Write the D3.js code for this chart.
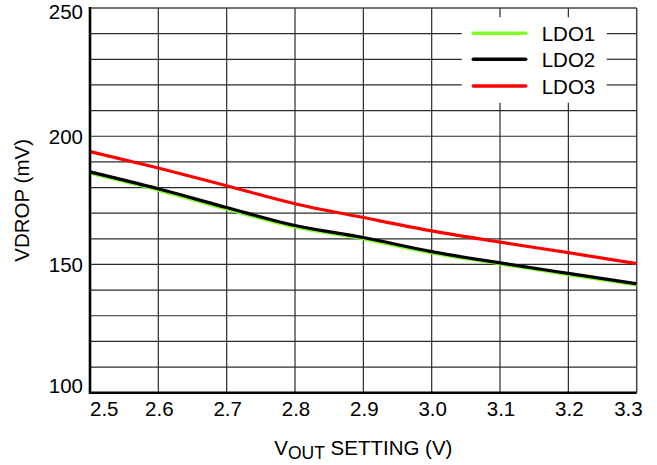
<!DOCTYPE html>
<html>
<head>
<meta charset="utf-8">
<script src="https://cdn.jsdelivr.net/npm/d3@7"></script>
<style>
  body { margin: 0; background: #fff; }
  text { font-family: "Liberation Sans", Arial, sans-serif; fill: #000; }
</style>
</head>
<body>
<div id="chart"></div>
<script>
// values
const vout = [2.5, 2.6, 2.7, 2.8, 2.9, 3.0, 3.1, 3.2, 3.3];
const ldo1 = [185.6, 179.0, 171.6, 164.6, 160.0, 154.5, 150.2, 146.0, 142.0];
const ldo2 = [186.1, 179.5, 172.2, 165.2, 160.5, 155.0, 150.6, 146.5, 142.5];
const ldo3 = [194.0, 187.6, 180.7, 173.7, 168.3, 163.1, 158.7, 154.6, 150.3];

const seriesNames = ["LDO1", "LDO2", "LDO3"];
const seriesColors = ["#80ff20", "#000000", "#ff0000"];
const yTickLabels = [100, 150, 200, 250];

const width = 657, height = 465;
const margin = {top: 8, right: 20.3, bottom: 72.3, left: 90};
const fontSize = 20.5;

const svg = d3.select("#chart")
  .append("svg")
  .attr("width", width)
  .attr("height", height);

const x = d3.scaleLinear()
  .domain([2.5, 3.3])
  .range([margin.left, width - margin.right]);

const y = d3.scaleLinear()
  .domain([100, 250])
  .range([height - margin.bottom, margin.top]);

// legend box area (pixels), grid is cut out underneath it
const legendBox = {x0: 461.7, x1: 606.7, y0: 17.3, y1: 102.7};

const grid = svg.append("g").attr("stroke", "#2a2a2a").attr("stroke-width", 1.2);

d3.range(110, 250, 10).forEach(v => {
  const yy = y(v);
  if (yy > legendBox.y0 && yy < legendBox.y1) {
    grid.append("line").attr("x1", x(2.5)).attr("x2", legendBox.x0).attr("y1", yy).attr("y2", yy);
    grid.append("line").attr("x1", legendBox.x1).attr("x2", x(3.3)).attr("y1", yy).attr("y2", yy);
  } else {
    grid.append("line").attr("x1", x(2.5)).attr("x2", x(3.3)).attr("y1", yy).attr("y2", yy);
  }
});

vout.slice(1, -1).forEach(v => {
  const xx = x(v);
  if (xx > legendBox.x0 && xx < legendBox.x1) {
    grid.append("line").attr("x1", xx).attr("x2", xx).attr("y1", y(250)).attr("y2", legendBox.y0);
    grid.append("line").attr("x1", xx).attr("x2", xx).attr("y1", legendBox.y1).attr("y2", y(100));
  } else {
    grid.append("line").attr("x1", xx).attr("x2", xx).attr("y1", y(250)).attr("y2", y(100));
  }
});

// frame: top and right thin, left and bottom heavy
svg.append("line").attr("x1", x(2.5)).attr("x2", x(3.3)).attr("y1", y(250)).attr("y2", y(250))
  .attr("stroke", "#444").attr("stroke-width", 1.5);
svg.append("line").attr("x1", x(3.3)).attr("x2", x(3.3)).attr("y1", y(250)).attr("y2", y(100))
  .attr("stroke", "#444").attr("stroke-width", 1.5);

// series
const line = d3.line()
  .x((d, i) => x(vout[i]))
  .y(d => y(d))
  .curve(d3.curveMonotoneX);

[ldo1, ldo2, ldo3].forEach((s, i) => {
  svg.append("path")
    .datum(s)
    .attr("fill", "none")
    .attr("stroke", seriesColors[i])
    .attr("stroke-width", 3.2)
    .attr("stroke-linejoin", "round")
    .attr("d", line);
});

svg.append("line").attr("x1", x(2.5)).attr("x2", x(2.5)).attr("y1", y(250) - 1).attr("y2", y(100) + 1)
  .attr("stroke", "#000").attr("stroke-width", 2.6);
svg.append("line").attr("x1", x(2.5) - 1).attr("x2", x(3.3)).attr("y1", y(100)).attr("y2", y(100))
  .attr("stroke", "#000").attr("stroke-width", 2.6);

// x tick labels
svg.append("g")
  .selectAll("text")
  .data(vout)
  .join("text")
    .attr("x", (d, i) => x(d) + (i === 0 ? 0 : i === vout.length - 1 ? 6 : 1))
    .attr("y", 416)
    .attr("font-size", fontSize)
    .attr("text-anchor", (d, i) => i === 0 ? "start" : i === vout.length - 1 ? "end" : "middle")
    .text(d => d.toFixed(1));

// y tick labels
svg.append("g")
  .selectAll("text")
  .data(yTickLabels)
  .join("text")
    .attr("x", 83)
    .attr("y", d => y(d) + 8 + (d === 250 ? 3 : d === 100 ? -8 : 0))
    .attr("font-size", fontSize)
    .attr("text-anchor", "end")
    .text(d => d);

// axis titles
const xTitle = svg.append("text")
  .attr("x", (x(2.5) + x(3.3)) / 2)
  .attr("y", 455)
  .attr("font-size", fontSize)
  .attr("text-anchor", "middle");
xTitle.append("tspan").text("V");
xTitle.append("tspan").attr("font-size", 17.5).attr("dy", 4).text("OUT");
xTitle.append("tspan").attr("dy", -4).text(" SETTING (V)");

svg.append("text")
  .attr("transform", `translate(28.5,${(y(100) + y(250)) / 2}) rotate(-90)`)
  .attr("font-size", fontSize)
  .attr("text-anchor", "middle")
  .text("VDROP (mV)");

// legend
const legend = svg.append("g");
const legendY = [33.3, 59.3, 86.0];
seriesNames.forEach((name, i) => {
  legend.append("line")
    .attr("x1", 473.3).attr("x2", 525.7)
    .attr("y1", legendY[i]).attr("y2", legendY[i])
    .attr("stroke", seriesColors[i])
    .attr("stroke-width", 3.5)
    .attr("stroke-linecap", "round");
  legend.append("text")
    .attr("x", 541.7)
    .attr("y", legendY[i] + 7.5)
    .attr("font-size", fontSize)
    .text(name);
});
</script>
</body>
</html>
